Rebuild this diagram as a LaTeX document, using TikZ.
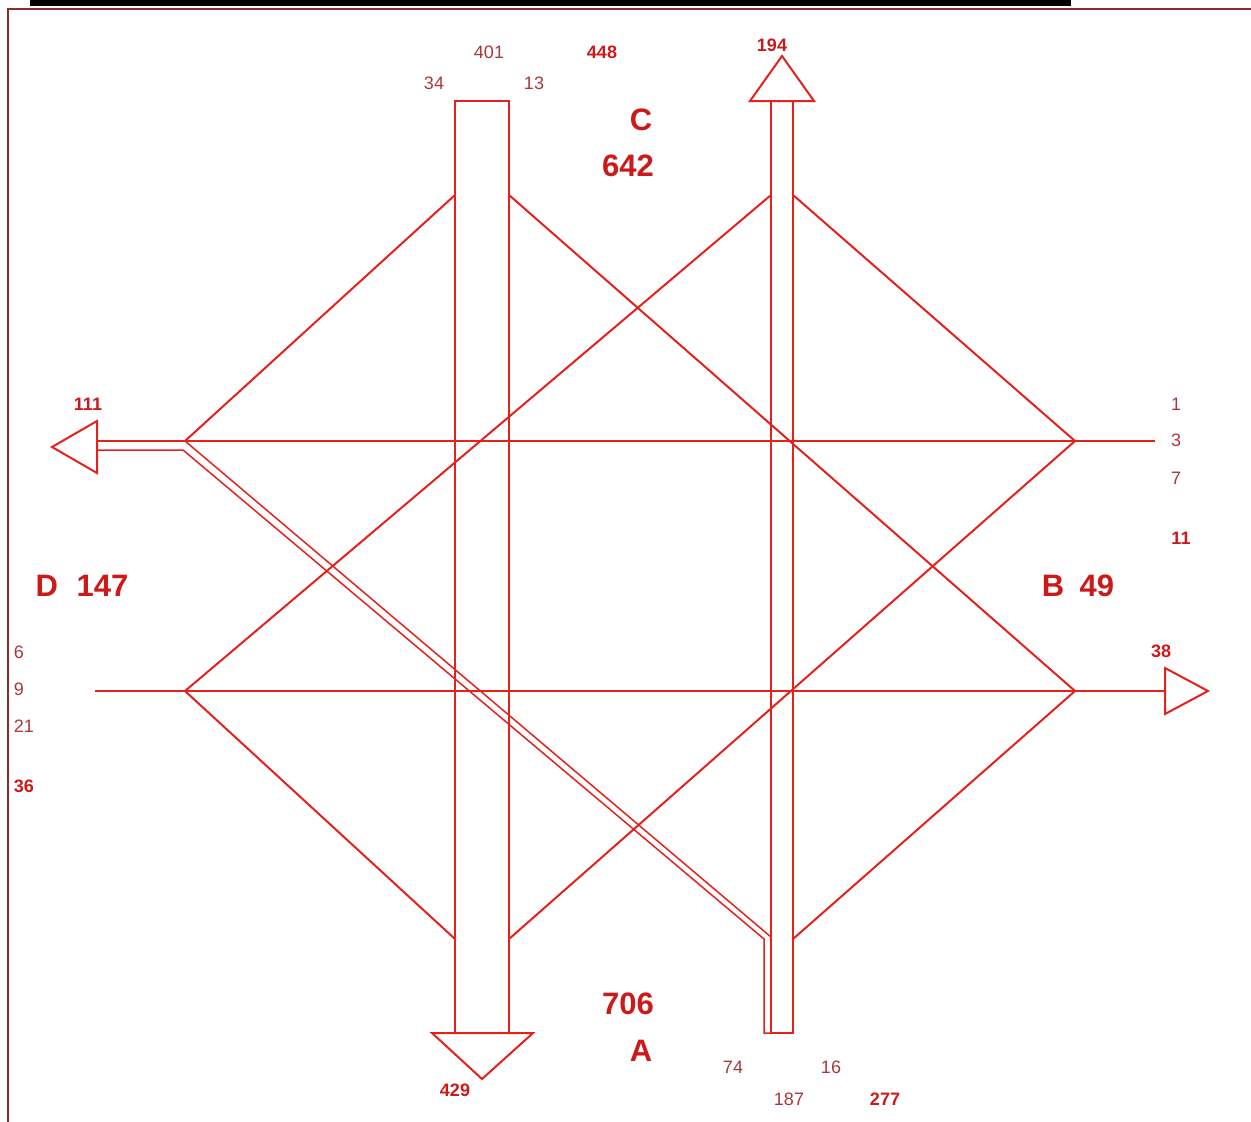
\documentclass[tikz,border=0pt]{standalone}
\usepackage{fontspec}
\setmainfont{Liberation Sans}
\usetikzlibrary{positioning}
\definecolor{cFlow} {HTML}{E3221E}
\definecolor{cNum}  {HTML}{A8393A}
\definecolor{cSum}  {HTML}{CC1A1A}
\definecolor{cFrame}{HTML}{8E2B2B}

\begin{document}
\begin{tikzpicture}[x=1pt,y=-1pt,
    flow/.style={cFlow,line width=2pt,line join=miter},
    lane/.style={cFlow,line width=1.5pt},
    num/.style={font=\fontsize{18}{20}\selectfont,text=cNum,inner sep=0pt},
    sum/.style={font=\fontsize{18}{20}\selectfont\bfseries,text=cSum,inner sep=0pt},
    big/.style={font=\fontsize{31}{34}\selectfont\bfseries,text=cSum,inner sep=0pt}]
  \useasboundingbox (0,0) rectangle (1251,1122);
  \fill[black] (30,0) rectangle (1071,6);                          % title bar
  \draw[cFrame,line width=2pt] (1251,9) -- (8,9) -- (8,1122);       % frame

  % corners of the two diamonds
  \coordinate (wN) at (185,441);  \coordinate (wS) at (185,691);
  \coordinate (eN) at (1075,441); \coordinate (eS) at (1075,691);
  % bar edges, top and bottom
  \coordinate (aTL) at (455,195); \coordinate (aTR) at (509,195);
  \coordinate (aBL) at (455,939); \coordinate (aBR) at (509,939);
  \coordinate (cTL) at (771,195); \coordinate (cTR) at (793,195);
  \coordinate (cBL) at (771,937); \coordinate (cBR) at (793,939);

  % wide bar going south (C to A)
  \draw[flow] (455,101) rectangle (509,1033);
  \draw[flow] (432,1033) -- (533,1033) -- (482,1079) -- cycle;
  % narrow bar going north (A to C)
  \draw[flow] (771,101) rectangle (793,1033);
  \draw[flow] (750,101) -- (814,101) -- (782,56) -- cycle;

  % east-west lines
  \coordinate (wArr) at (97,441); \coordinate (eEnd) at (1155,441);
  \draw[flow] (wArr) -- (eEnd);
  \coordinate (wEnd) at (95,691); \coordinate (eArr) at (1165,691);
  \draw[flow] (wEnd) -- (eArr);
  \draw[flow] (97,421) -- (97,473) -- (52,447) -- cycle;             % west head
  \draw[flow] (1165,668) -- (1165,714) -- (1208,691) -- cycle;       % east head

  % diamond edges
  \draw[flow] (aTL) -- (wN);
  \draw[flow] (wS) -- (aBL);
  \draw[flow] (cTR) -- (eN);
  \draw[flow] (eS) -- (cBR);
  % long diagonals
  \draw[flow] (aTR) -- (eS);
  \draw[flow] (cTL) -- (wS);
  \draw[flow] (eN) -- (aBR);
  % double lane D to A
  \draw[lane] (wN) -- (cBL);
  \draw[lane] (97,450) -- (183,450) -- (764,939) -- (764,1033) -- (771,1033);

  % C
  \node[num] (n401) at (489,52) {401};
  \node[sum] (n448) at (602,52) {448};
  \node[num] (n34)  at (434,83) {34};
  \node[num] (n13)  at (534,83) {13};
  \node[big] (lC)   at (641,120) {C};
  \node[big] (n642) at (628,166) {642};
  \node[sum] (n194) at (772,45) {194};
  % D
  \node[sum] (n111) at (88,404) {111};
  \node[big] (lD)   at (82,586) {D\hspace{0.6em}147};
  \node[num] (n6)   at (19,652) {6};
  \node[num] (n9)   at (19,689) {9};
  \node[num] (n21)  at (24,726) {21};
  \node[sum] (n36)  at (24,786) {36};
  % B
  \node[num] (n1)   at (1176,404) {1};
  \node[num] (n3)   at (1176,440) {3};
  \node[num] (n7)   at (1176,478) {7};
  \node[sum] (n11)  at (1181,538) {11};
  \node[big] (lB)   at (1078,586) {B\hspace{0.5em}49};
  \node[sum] (n38)  at (1161,651) {38};
  % A
  \node[big] (n706) at (628,1004) {706};
  \node[big] (lA)   at (641,1051) {A};
  \node[sum] (n429) at (455,1090) {429};
  \node[num] (n74)  at (733,1067) {74};
  \node[num] (n16)  at (831,1067) {16};
  \node[num] (n187) at (789,1099) {187};
  \node[sum] (n277) at (885,1099) {277};
\end{tikzpicture}
\end{document}
